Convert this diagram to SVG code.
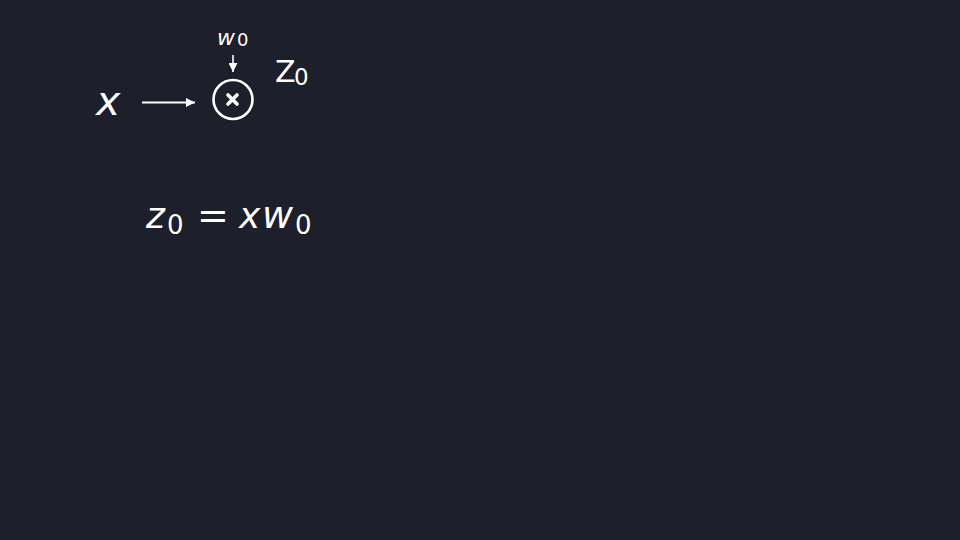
<svg xmlns="http://www.w3.org/2000/svg" width="960" height="540" viewBox="0 0 960 540">
<style>
.t{font-family:"DejaVu Sans",sans-serif;fill:#ffffff}
.i{font-style:italic}
.ln{stroke:#ffffff;stroke-width:2;fill:none}
</style>
<defs>
<marker id="ah" viewBox="0 0 10 10" refX="10" refY="5" markerWidth="14" markerHeight="9" markerUnits="userSpaceOnUse" orient="auto">
<path d="M0,0 L10,5 L0,10 Z" fill="#ffffff"/>
</marker>
</defs>
<rect width="960" height="540" fill="#1d202b"/>
<g id="connectors">
<line class="ln" x1="142" y1="102.5" x2="195" y2="102.5" marker-end="url(#ah)"/>
<line class="ln" x1="233" y1="55" x2="233" y2="72" marker-end="url(#ah)" style="stroke-width:1.6"/>
</g>
<g id="node-x">
<text class="t i" x="96" y="115" font-size="41">x</text>
</g>
<g id="node-w0">
<text class="t i" x="217" y="45" font-size="22">w</text>
<text class="t" x="237" y="46" font-size="18">0</text>
</g>
<g id="node-mult">
<circle cx="233" cy="99.5" r="19.5" fill="none" stroke="#ffffff" stroke-width="2.6"/>
<path d="M228,95 L237,104 M237,95 L228,104" stroke="#ffffff" stroke-width="3.6" stroke-linecap="round"/>
</g>
<g id="node-z0">
<text class="t" x="275" y="82" font-size="30">Z</text>
<text class="t" x="294" y="85" font-size="23">0</text>
</g>
<g id="equation">
<text class="t i" x="146" y="228" font-size="36">z</text>
<text class="t" x="167" y="234" font-size="26">0</text>
<text class="t" x="197" y="228" font-size="38">=</text>
<text class="t i" x="239" y="228" font-size="36">x</text>
<text class="t i" x="262" y="228" font-size="38">w</text>
<text class="t" x="295" y="234" font-size="26">0</text>
</g>
</svg>
